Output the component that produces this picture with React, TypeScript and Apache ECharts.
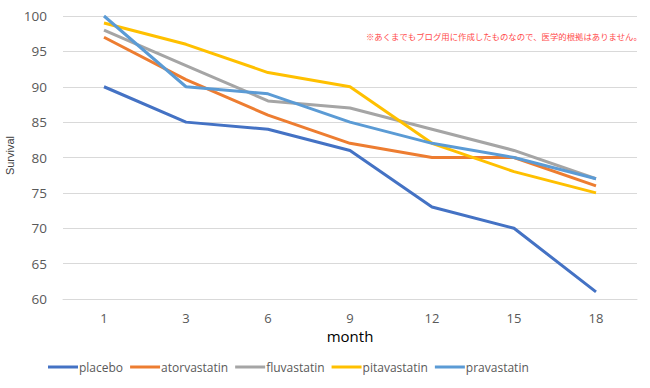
import React, { useEffect, useRef } from "react";
import * as echarts from "echarts";

const months = ["1", "3", "6", "9", "12", "15", "18"];
const placebo = [90, 85, 84, 81, 73, 70, 61];
const atorvastatin = [97, 91, 86, 82, 80, 80, 76];
const fluvastatin = [98, 93, 88, 87, 84, 81, 77];
const pitavastatin = [99, 96, 92, 90, 82, 78, 75];
const pravastatin = [100, 90, 89, 85, 82, 80, 77];
const seriesNames = ["placebo", "atorvastatin", "fluvastatin", "pitavastatin", "pravastatin"];
const seriesData = [placebo, atorvastatin, fluvastatin, pitavastatin, pravastatin];
const colors = ["#4472C4", "#ED7D31", "#A5A5A5", "#FFC000", "#5B9BD5"];
const note = "※あくまでもブログ用に作成したものなので、医学的根拠はありません。";

export default function App() {
  const ref = useRef<HTMLDivElement>(null);
  useEffect(() => {
    const chart = echarts.init(ref.current!, null, { renderer: "svg" });
    chart.setOption({
      animation: false,
      color: colors,
      grid: { left: 63, right: 13, top: 16, bottom: 89, containLabel: false },
      graphic: [
        {
          type: "text",
          left: 366,
          top: 32,
          style: { text: note, fill: "#FF4B4B", font: "8.4px 'Noto Sans CJK JP'" },
        },
        {
          type: "text",
          left: 4,
          top: 136,
          rotation: Math.PI / 2,
          style: { text: "Survival", fill: "#404040", font: "11px 'Liberation Sans'" },
        },
      ],
      legend: {
        left: 48,
        top: 361,
        padding: 0,
        itemWidth: 30,
        itemHeight: 3,
        itemGap: 7,
        icon: "rect",
        textStyle: { color: "#595959", fontSize: 12, fontFamily: "'Open Sans', sans-serif", padding: [0, 0, 0, -4] },
        data: seriesNames,
      },
      xAxis: {
        type: "category",
        data: months,
        boundaryGap: true,
        name: "month",
        nameLocation: "middle",
        nameGap: 29,
        nameTextStyle: { color: "#000", fontSize: 15, fontFamily: "'Open Sans', sans-serif" },
        axisLine: { show: true, lineStyle: { color: "#d9d9d9", width: 1 } },
        axisTick: { show: false },
        axisLabel: { color: "#595959", fontSize: 13, margin: 12, fontFamily: "'Open Sans', sans-serif" },
      },
      yAxis: {
        type: "value",
        min: 60,
        max: 100,
        interval: 5,
        axisLine: { show: false },
        axisTick: { show: false },
        axisLabel: { color: "#595959", fontSize: 13.5, margin: 16, fontFamily: "'Open Sans', sans-serif" },
        splitLine: { lineStyle: { color: "#d9d9d9", width: 1 } },
      },
      series: seriesNames.map((n, i) => ({
        name: n,
        type: "line",
        data: seriesData[i],
        showSymbol: false,
        symbol: "none",
        lineStyle: { width: 3, color: colors[i] },
        itemStyle: { color: colors[i] },
      })),
    });
    return () => chart.dispose();
  }, []);
  return <div ref={ref} style={{ width: 650, height: 388, position: "absolute", left: 0, top: 0 }} />;
}
